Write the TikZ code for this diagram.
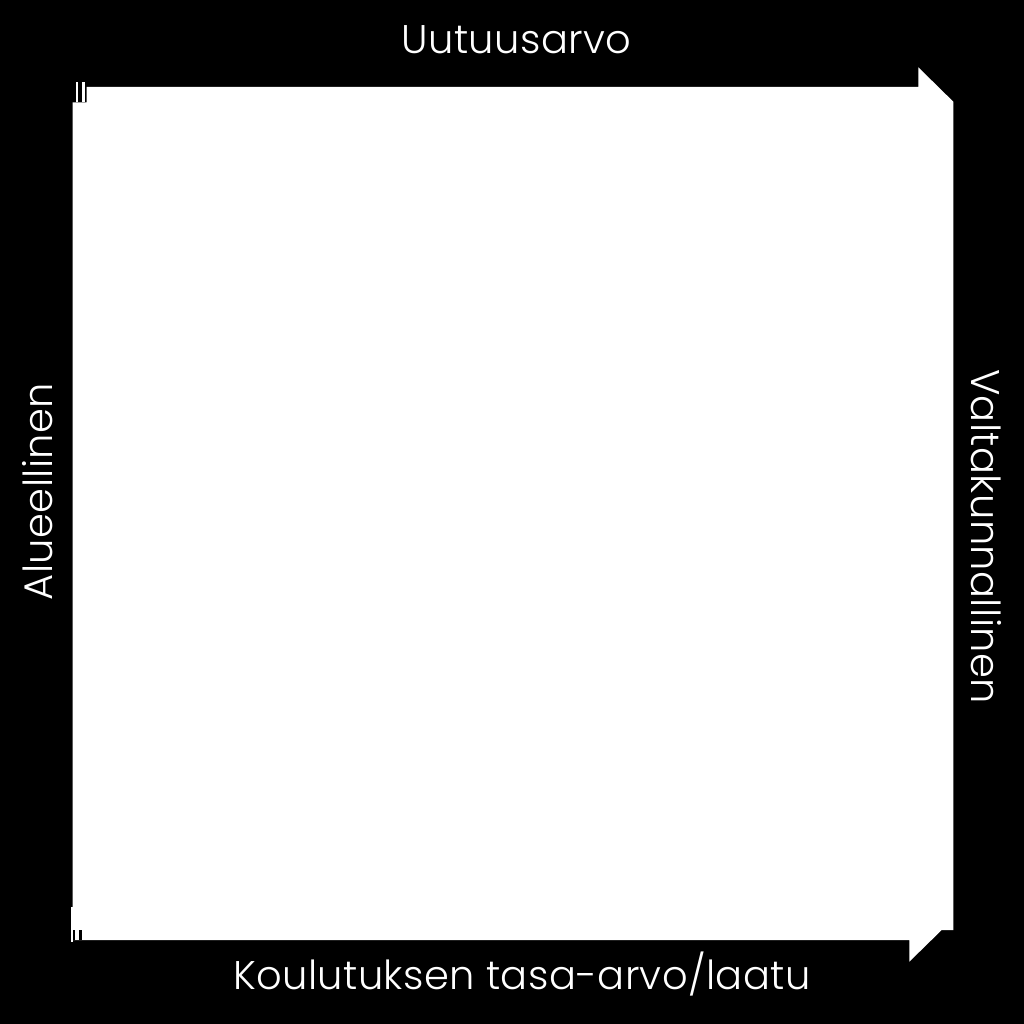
\documentclass[tikz,border=0pt]{standalone}
\usepackage{fontspec}
\newfontfamily\lblfont[LetterSpace=1.0]{Poppins Light}
\tikzset{
  lbl/.style={text=white, font=\lblfont\fontsize{40}{48}\selectfont, inner sep=0pt, anchor=center},
  panel/.style={fill=white, draw=none}
}
\begin{document}
\begin{tikzpicture}[x=1pt,y=-1pt]
\fill[black] (0,0) rectangle (1024,1024);
\useasboundingbox (0,0) rectangle (1024,1024);
% white panel with arrow notches
\fill[panel] (86.7,87) -- (918.3,87) -- (918.3,67.3) -- (953.3,101.7) -- (953.3,930)
  -- (941.7,930) -- (909.3,961.7) -- (909.3,940) -- (72.7,940) -- (72.7,102.3)
  -- (86.7,102.3) -- cycle;
% small artifacts at the left corners
\fill[panel] (76,82) rectangle (78.3,102.3);
\fill[panel] (82.3,82) rectangle (84.7,102.3);
\fill[panel] (70.7,906.7) rectangle (72.7,941.7);
\fill[black] (72.7,930) rectangle (75,940);
\fill[black] (79.3,930) rectangle (81.7,940);
% labels
\node[lbl] (top) at (516.5,40) {Uutuusarvo};
\node[lbl] (bottom) at (522,974) {Koulutuksen tasa-arvo/laatu};
\node[lbl, rotate=90] (left) at (38,491.5) {Alueellinen};
\node[lbl, rotate=-90] (right) at (986,536.5) {Valtakunnallinen};
\end{tikzpicture}
\end{document}
